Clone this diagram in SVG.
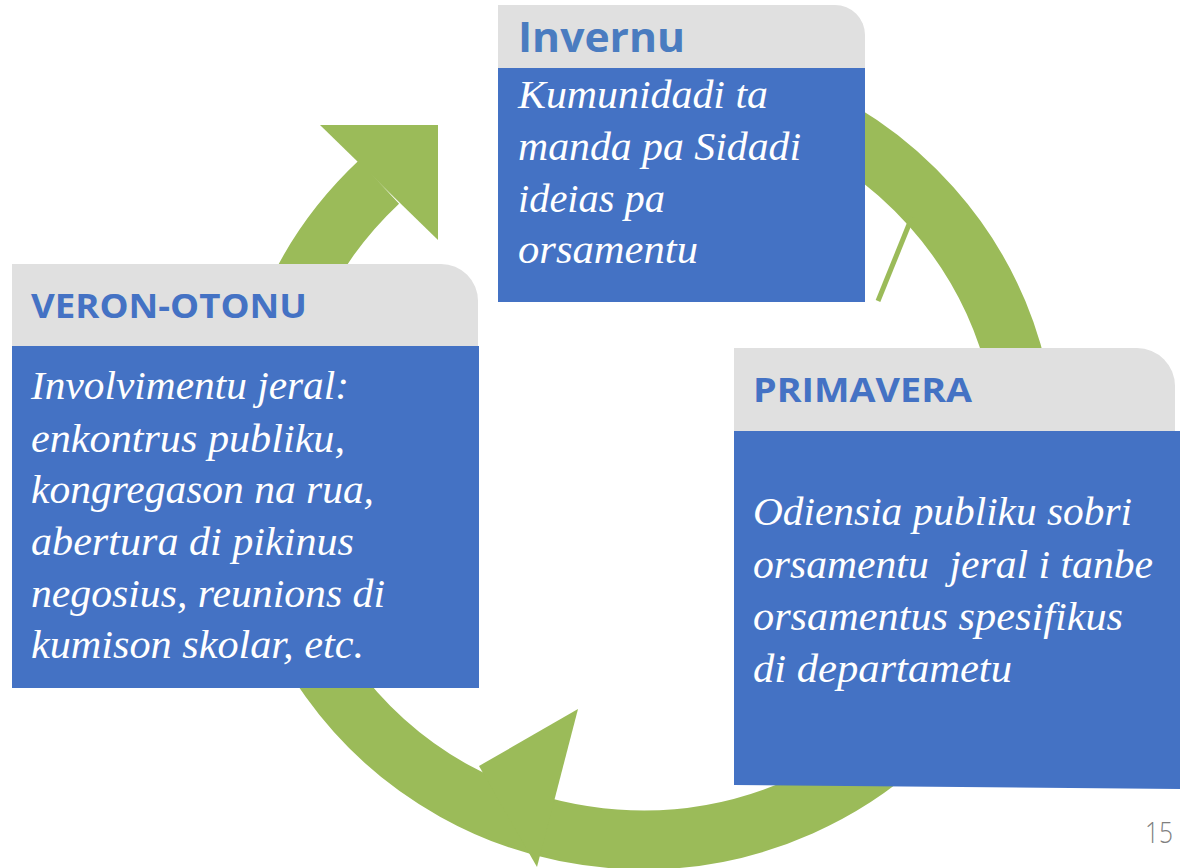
<svg xmlns="http://www.w3.org/2000/svg" width="1184" height="868" viewBox="0 0 1184 868">
<style>
.ring{fill:none;stroke:#9BBB59;stroke-width:59}
.green{fill:#9BBB59}
.hdr{fill:#E0E0E0}
.body{fill:#4472C4}
.ht{font-family:"Open Sans","Liberation Sans",sans-serif;font-weight:700;fill:#4472C4}
.bt{font-family:"Liberation Serif",serif;font-style:italic;font-size:40px;fill:#FFFFFF;white-space:pre}
.pg{font-family:"Open Sans","Liberation Sans",sans-serif;font-weight:300;font-size:29px;fill:#7F7F7F}
</style>
<rect width="1184" height="868" fill="#FFFFFF"/>
<g id="connectors">
  <path class="ring" d="M609.5,79.4 A384.5,381 0 1 1 378.9,182.1"/>
  <polygon class="green" points="320,125 438,125 438,240"/>
  <polygon class="green" points="578,709 479,766 537,867"/>
  <line x1="912" y1="217" x2="878" y2="301" stroke="#9BBB59" stroke-width="5"/>
</g>
<g id="invernu">
  <path class="hdr" d="M498,69 V5 H835 A30,30 0 0 1 865,35 V69 Z"/>
  <rect class="body" x="498" y="68" width="367" height="234"/>
  <text class="ht" x="518" y="52" font-size="42" textLength="167" lengthAdjust="spacingAndGlyphs" style="fill:#4A7CC0">Invernu</text>
  <text class="bt" x="518" y="108" textLength="250" lengthAdjust="spacingAndGlyphs">Kumunidadi ta</text>
  <text class="bt" x="518" y="160" textLength="283" lengthAdjust="spacingAndGlyphs">manda pa Sidadi</text>
  <text class="bt" x="518" y="212" textLength="147" lengthAdjust="spacingAndGlyphs">ideias pa</text>
  <text class="bt" x="518" y="263" textLength="180" lengthAdjust="spacingAndGlyphs">orsamentu</text>
</g>
<g id="veron-otonu">
  <path class="hdr" d="M12,347 V264 H441 A37,37 0 0 1 478,301 V347 Z"/>
  <rect class="body" x="12" y="346" width="467" height="342"/>
  <text class="ht" x="31" y="318" font-size="34" textLength="276" lengthAdjust="spacingAndGlyphs">VERON-OTONU</text>
  <text class="bt" x="31" y="399" textLength="318" lengthAdjust="spacingAndGlyphs">Involvimentu jeral:</text>
  <text class="bt" x="31" y="452" textLength="314" lengthAdjust="spacingAndGlyphs">enkontrus publiku,</text>
  <text class="bt" x="31" y="503" textLength="343" lengthAdjust="spacingAndGlyphs">kongregason na rua,</text>
  <text class="bt" x="31" y="555" textLength="323" lengthAdjust="spacingAndGlyphs">abertura di pikinus</text>
  <text class="bt" x="31" y="607" textLength="354" lengthAdjust="spacingAndGlyphs">negosius, reunions di</text>
  <text class="bt" x="31" y="658" textLength="333" lengthAdjust="spacingAndGlyphs">kumison skolar, etc.</text>
</g>
<g id="primavera">
  <path class="hdr" d="M734,432 V348 H1137 A38,38 0 0 1 1175,386 V432 Z"/>
  <polygon class="body" points="734,431 1180,431 1180,789 734,785"/>
  <text class="ht" x="753" y="402" font-size="34" textLength="219" lengthAdjust="spacingAndGlyphs">PRIMAVERA</text>
  <text class="bt" x="753" y="525" textLength="379" lengthAdjust="spacingAndGlyphs">Odiensia publiku sobri</text>
  <text class="bt" x="753" y="578" textLength="400" lengthAdjust="spacingAndGlyphs">orsamentu  jeral i tanbe</text>
  <text class="bt" x="753" y="630" textLength="370" lengthAdjust="spacingAndGlyphs">orsamentus spesifikus</text>
  <text class="bt" x="753" y="682" textLength="259" lengthAdjust="spacingAndGlyphs">di departametu</text>
</g>
<text class="pg" x="1145" y="843" textLength="28" lengthAdjust="spacingAndGlyphs">15</text>
</svg>
